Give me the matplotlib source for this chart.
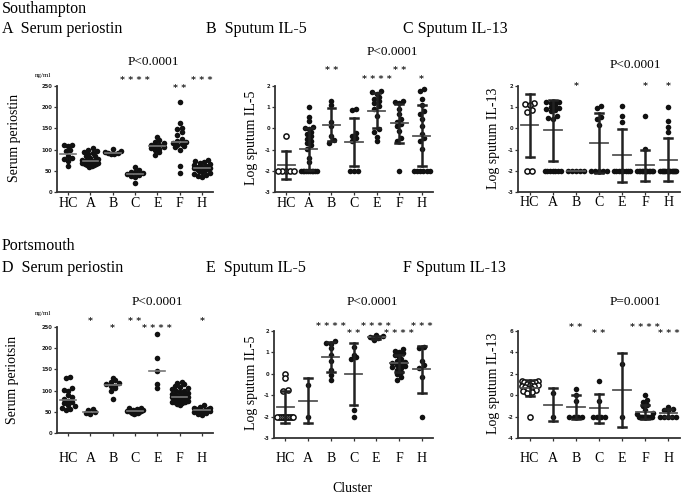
import matplotlib
matplotlib.use('Agg')
import matplotlib.pyplot as plt
import numpy as np

W, H = 682, 497
fig = plt.figure(figsize=(W / 100, H / 100), dpi=100)
SERIF = 'Liberation Serif'

clusters = ['HC', 'A', 'B', 'C', 'E', 'F', 'H']

# ---------------- Southampton ----------------
# A  Serum periostin (ng/ml), groups in order of `clusters`
soton_periostin = [
    [112, 110, 108, 98, 96, 85, 80, 77, 72, 62],
    [104, 100, 97, 95, 92, 90, 86, 84, 80, 78, 76, 75, 74, 73, 72, 71, 70, 69, 68, 66, 65, 64, 63, 61, 60],
    [102, 97, 95, 93, 92, 90, 89],
    [58, 52, 48, 46, 44, 42, 40, 38, 35, 22],
    [130, 122, 118, 115, 112, 110, 108, 106, 104, 102, 98, 95, 88],
    [212, 163, 150, 148, 142, 135, 125, 120, 118, 115, 113, 110, 108, 105, 100, 62, 45],
    [75, 72, 70, 68, 66, 64, 62, 60, 58, 57, 56, 55, 54, 52, 50, 48, 45, 42, 40, 38, 36],
]
soton_periostin_stars = ['', '', '', '****', '', '**', '***']

# B  Log sputum IL-5
soton_il5 = [
    [-0.35, -2, -2, -2, -2, -2],
    [1.0, 0.55, 0.35, 0.05, 0.0, -0.05, -0.15, -0.25, -0.35, -0.5, -0.6, -0.7, -0.8, -0.95, -1.4, -1.6,
     -2, -2, -2, -2, -2, -2, -2, -2, -2, -2],
    [1.3, 1.1, 0.3, 0.1, -0.35, -0.55, -0.7],
    [0.9, 0.85, -0.2, -0.35, -0.45, -0.6, -2, -2, -2],
    [1.75, 1.7, 1.6, 1.5, 1.4, 1.3, 1.2, 1.05, 0.9, 0.6, -0.05, -0.15, -0.4, -0.6],
    [1.3, 1.25, 1.2, 0.9, 0.7, 0.45, 0.3, 0.2, 0.1, -0.1, -0.45, -0.6, -2],
    [1.85, 1.75, 1.4, 1.1, 0.8, 0.7, 0.45, 0.1, -0.25, -0.45, -0.6, -0.95, -2, -2, -2, -2, -2, -2],
]
soton_il5_stars = ['', '', '**', '', '****', '**', '*']

# C  Log sputum IL-13
soton_il13 = [
    [1.2, 1.15, 1.1, 0.85, 0.75, -2, -2],
    [1.25, 1.25, 1.25, 1.2, 1.1, 1.0, 0.95, 0.9, 0.85, 0.8, 0.6, 0.5, 0.45, -2, -2, -2, -2, -2, -2, -2],
    [-2, -2, -2, -2, -2],
    [1.05, 0.95, 0.55, 0.45, 0.15, -2, -2, -2, -2, -2],
    [1.05, 0.6, 0.3, -2, -2, -2, -2, -2, -2, -2, -2],
    [0.6, -0.95, -2, -2, -2, -2, -2, -2, -2, -2, -2, -2, -2, -2],
    [1.0, 0.35, 0.05, -0.15, -2, -2, -2, -2, -2, -2, -2, -2, -2, -2, -2, -2, -2, -2],
]
soton_il13_stars = ['', '', '*', '', '', '*', '*']

# ---------------- Portsmouth ----------------
# D  Serum periostin
ports_periostin = [
    [133, 129, 105, 102, 100, 90, 85, 80, 76, 74, 70, 66, 63, 60, 57, 54],
    [57, 55, 50, 47, 44],
    [130, 125, 120, 117, 115, 112, 110, 105, 98, 80],
    [60, 58, 56, 55, 54, 53, 52, 51, 50, 49, 48, 47, 46, 45],
    [233, 178, 147, 115, 105],
    [120, 118, 115, 112, 108, 105, 103, 100, 98, 96, 95, 93, 92, 90, 88, 87, 86, 85, 84, 83, 82, 81,
     80, 79, 78, 77, 76, 75, 74, 73, 72, 70, 68, 66],
    [65, 62, 60, 58, 57, 56, 55, 54, 53, 52, 51, 50, 48, 45, 42],
]
ports_periostin_stars = ['', '*', '*', '**', '****', '', '*']

# E  Log sputum IL-5
ports_il5 = [
    [0.0, -0.2, -0.75, -0.8, -2, -2, -2, -2, -2, -2, -2, -2, -2, -2],
    [-0.5, -2],
    [1.55, 1.45, 1.4, 1.2, 0.9, 0.6, 0.2, -0.05, -0.3],
    [1.25, 0.9, 0.8, 0.7, -1.7, -2],
    [1.8, 1.75, 1.7, 1.65, 1.6],
    [1.15, 1.05, 1.0, 0.95, 0.9, 0.8, 0.7, 0.6, 0.55, 0.5, 0.45, 0.4, 0.35, 0.3, 0.25, 0.2, 0.1, 0.0,
     -0.15, -0.3],
    [1.25, 1.2, 0.6, 0.4, 0.25, -0.15, -2],
]
ports_il5_stars = ['', '', '****', '**', '****', '****', '***']

# F  Log sputum IL-13
ports_il13 = [
    [1.35, 1.3, 1.25, 1.2, 1.1, 1.05, 1.0, 0.95, 0.9, 0.85, 0.8, 0.7, 0.6, 0.5, 0.4, 0.3, 0.2, -2],
    [0.2, -2],
    [0.6, 0.0, -0.55, -2, -2, -2, -2],
    [1.3, -0.55, -2, -2, -2, -2],
    [2.9, -2],
    [0.0, -0.45, -0.6, -0.9, -1.0, -1.4, -1.7, -1.8, -2, -2, -2, -2, -2, -2, -2, -2, -2, -2, -2, -2],
    [-1.1, -1.3, -1.4, -1.5, -2, -2, -2, -2, -2],
]
ports_il13_stars = ['', '', '**', '**', '', '****', '***']


def fx(x):
    return x / W


def fy(y):
    return 1 - y / H


def add_axes_px(x0, ytop, x1, ybot):
    return fig.add_axes([x0 / W, 1 - ybot / H, (x1 - x0) / W, (ybot - ytop) / H])


def swarm(ax, xpos, vals, d=4.3, maxw=8.0):
    vals = np.asarray(vals, float)
    order = np.argsort(vals, kind='stable')
    ypix = ax.transData.transform(np.column_stack([np.zeros_like(vals), vals]))[:, 1]
    pxu = ax.transData.transform([[1, 0]])[0, 0] - ax.transData.transform([[0, 0]])[0, 0]
    rows, cur, start = [], [], None
    for i in order:
        if start is None or abs(ypix[i] - start) > d * 0.9:
            if cur:
                rows.append(cur)
            cur, start = [i], ypix[i]
        else:
            cur.append(i)
    if cur:
        rows.append(cur)
    off = np.zeros(len(vals))
    for row in rows:
        n = len(row)
        if n == 1:
            continue
        sp = min(d, 2 * maxw / (n - 1))
        slots = [(k - (n - 1) / 2) * sp for k in range(n)]
        slots.sort(key=lambda s: abs(s))
        for k, i in enumerate(row):
            off[i] = slots[k]
    return xpos + off / pxu


def panel(box, groups, ylim, yticks, kind, stars, star_y, label_pad):
    ax = add_axes_px(*box)
    ax.set_xlim(-0.5, 6.5)
    ax.set_ylim(*ylim)
    for s in ('top', 'right'):
        ax.spines[s].set_visible(False)
    for s in ('left', 'bottom'):
        ax.spines[s].set_color('#333333')
        ax.spines[s].set_linewidth(1.3)
    ax.set_yticks(yticks)
    ax.set_yticklabels([str(t) for t in yticks], fontsize=3.8, fontweight='bold',
                       family='DejaVu Sans', color='#222222')
    ax.set_xticks(range(len(clusters)))
    ax.set_xticklabels(clusters, fontsize=10, family=SERIF)
    ax.tick_params(axis='y', length=2.2, width=0.9, pad=1.2, color='#333333')
    ax.tick_params(axis='x', length=2.2, width=0.9, pad=label_pad, color='#333333')
    for i, vals in enumerate(groups):
        xs = swarm(ax, i, vals)
        if i == 0 and kind == 'mean':
            ax.scatter(xs, vals, s=14, facecolors='white', edgecolors='#111111',
                       linewidths=1.1, zorder=3, clip_on=False)
        else:
            ax.scatter(xs, vals, s=16, c='#111111', linewidths=0, zorder=3, clip_on=False)
        if kind == 'median':
            m = np.median(vals)
            ax.plot([i - 0.35, i + 0.35], [m, m], color='#777777', lw=1.2, zorder=4)
        else:
            m = np.mean(vals)
            sd = np.std(vals, ddof=1) if len(vals) > 1 else 0.0
            ax.plot([i - 0.38, i + 0.38], [m, m], color='#555555', lw=1.3, zorder=4)
            if sd > 0:
                ax.plot([i, i], [m - sd, m + sd], color='#222222', lw=1.8, zorder=4)
                for yy in (m - sd, m + sd):
                    ax.plot([i - 0.17, i + 0.17], [yy, yy], color='#222222', lw=1.8, zorder=4)
    for i, (st, yv) in enumerate(zip(stars, star_y)):
        if st:
            ax.text(i, yv, ' '.join(st), ha='center', va='center', fontsize=6.8,
                    family='DejaVu Sans', fontweight='bold', color='#222222', clip_on=False)
    return ax


# star heights (layout)
sA = [0, 0, 0, 262, 0, 245, 262]
sB = [0, 0, 2.73, 0, 2.31, 2.73, 2.31]
sC = [0, 0, 1.98, 0, 0, 1.98, 1.98]
sD = [0, 264, 246, 264, 246, 0, 264]
sE = [0, 0, 2.21, 1.9, 2.21, 1.9, 2.21]
sF = [0, 0, 6.35, 5.8, 0, 6.35, 5.8]

panel((57, 86, 213, 192), soton_periostin, (0, 250), [0, 50, 100, 150, 200, 250], 'median',
      soton_periostin_stars, sA, 1.5)
panel((275, 86, 433, 192), soton_il5, (-3, 2), [-3, -2, -1, 0, 1, 2], 'mean',
      soton_il5_stars, sB, 1.5)
panel((518, 86, 680, 192), soton_il13, (-3, 2), [-3, -2, -1, 0, 1, 2], 'mean',
      soton_il13_stars, sC, 1.0)
panel((57, 327, 213, 433), ports_periostin, (0, 250), [0, 50, 100, 150, 200, 250], 'median',
      ports_periostin_stars, sD, 11.5)
panel((274, 331, 433, 438), ports_il5, (-3, 2), [-3, -2, -1, 0, 1, 2], 'mean',
      ports_il5_stars, sE, 8.0)
panel((518, 331, 680, 438), ports_il13, (-4, 6), [-4, -2, 0, 2, 4, 6], 'mean',
      ports_il13_stars, sF, 8.0)

# ---------------- texts ----------------
def t(x, y, s, size, ha='left', rot=0):
    fig.text(fx(x), fy(y), s, fontsize=size, family=SERIF, ha=ha, va='center', rotation=rot)

t(2, 9, 'Southampton', 11.5)
t(2, 29, 'A  Serum periostin', 11.5)
t(206, 29, 'B  Sputum IL-5', 11.5)
t(403, 29, 'C Sputum IL-13', 11.5)
t(2, 246, 'Portsmouth', 11.5)
t(2, 268, 'D  Serum periostin', 11.5)
t(206, 268, 'E  Sputum IL-5', 11.5)
t(403, 268, 'F Sputum IL-13', 11.5)

t(153, 62, 'P<0.0001', 9.5, ha='center')
t(392, 52, 'P<0.0001', 9.5, ha='center')
t(635, 65, 'P<0.0001', 9.5, ha='center')
t(157, 302, 'P<0.0001', 9.5, ha='center')
t(372, 302, 'P<0.0001', 9.5, ha='center')
t(635, 302, 'P=0.0001', 9.5, ha='center')

t(15, 138, 'Serum periostin', 10, ha='center', rot=90)
t(252, 138, 'Log sputum IL-5', 10, ha='center', rot=90)
t(493, 138, 'Log sputum IL-13', 10, ha='center', rot=90)
t(13, 380, 'Serum periotsin', 10, ha='center', rot=90)
t(252, 383, 'Log sputum IL-5', 10, ha='center', rot=90)
t(493, 383, 'Log sputum IL-13', 10, ha='center', rot=90)

t(43, 75, 'ng/ml', 5, ha='center')
t(43, 314, 'ng/ml', 5, ha='center')

t(352, 489, 'Cluster', 10, ha='center')

fig.savefig('out.png', dpi=100)
